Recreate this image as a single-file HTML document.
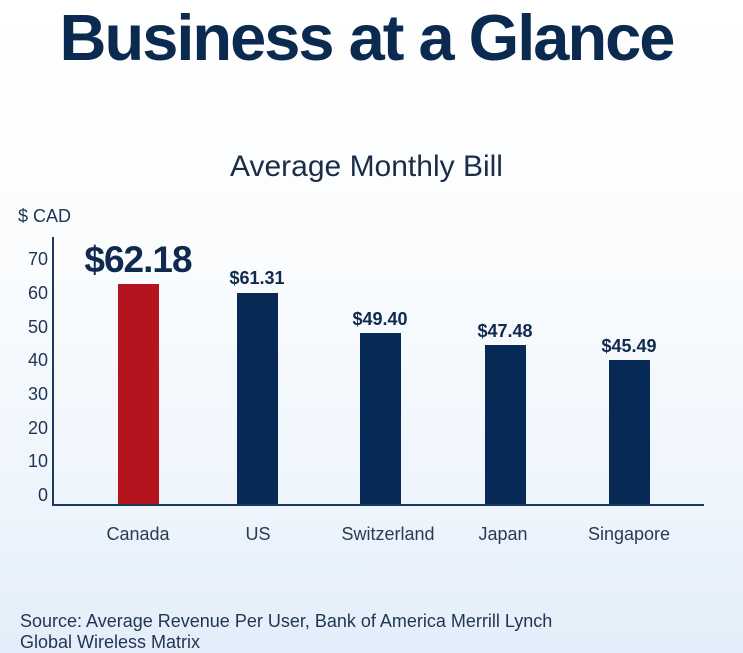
<!DOCTYPE html>
<html><head><style>
html,body{margin:0;padding:0}
body{width:743px;height:653px;position:relative;overflow:hidden;font-family:"Liberation Sans",sans-serif;color:#0f2a4e;
background:linear-gradient(180deg,#ffffff 0%,#fafcfe 40%,#eef5fc 75%,#e3eefa 100%);}
.a{position:absolute;white-space:nowrap}
.bar{position:absolute;background:#062a55;width:41px}
.tk{position:absolute;left:18px;width:30px;text-align:right;font-size:18px;color:#1f3552}
.v{position:absolute;font-weight:bold;font-size:18px;text-align:center;width:100px;color:#0f2a4e}
.x{position:absolute;font-size:18px;text-align:center;width:140px;top:524px;color:#2a3b52}
</style></head><body>
<div class="a" style="left:0;width:733px;text-align:center;top:0px;font-size:65px;font-weight:bold;letter-spacing:-2px;color:#0b2a50">Business at a Glance</div>
<div class="a" style="left:0;width:733px;text-align:center;top:150px;font-size:30px;color:#1a2d48">Average Monthly Bill</div>
<div class="a" style="left:18px;top:206px;font-size:18px;color:#1f3552">$ CAD</div>
<div style="position:absolute;left:52px;top:237px;width:2px;height:269px;background:#1d3a5a"></div>
<div style="position:absolute;left:52px;top:504px;width:652px;height:2px;background:#1d3a5a"></div>
<div class="tk" style="top:249px">70</div>
<div class="tk" style="top:283px">60</div>
<div class="tk" style="top:317px">50</div>
<div class="tk" style="top:350px">40</div>
<div class="tk" style="top:384px">30</div>
<div class="tk" style="top:418px">20</div>
<div class="tk" style="top:451px">10</div>
<div class="tk" style="top:485px">0</div>
<div class="bar" style="left:118px;top:284px;height:220px;background:#b3141d"></div>
<div class="bar" style="left:237px;top:293px;height:211px"></div>
<div class="bar" style="left:360px;top:333px;height:171px"></div>
<div class="bar" style="left:485px;top:345px;height:159px"></div>
<div class="bar" style="left:609px;top:360px;height:144px"></div>
<div class="v" style="left:68px;top:239px;width:140px;font-size:37px;letter-spacing:-1px">$62.18</div>
<div class="v" style="left:207px;top:268px">$61.31</div>
<div class="v" style="left:330px;top:309px">$49.40</div>
<div class="v" style="left:455px;top:321px">$47.48</div>
<div class="v" style="left:579px;top:336px">$45.49</div>
<div class="x" style="left:68px">Canada</div>
<div class="x" style="left:188px">US</div>
<div class="x" style="left:318px">Switzerland</div>
<div class="x" style="left:433px">Japan</div>
<div class="x" style="left:559px">Singapore</div>
<div class="a" style="left:20px;top:611px;font-size:18px;line-height:21px;color:#1f3552">Source: Average Revenue Per User, Bank of America Merrill Lynch<br>Global Wireless Matrix</div>
</body></html>
